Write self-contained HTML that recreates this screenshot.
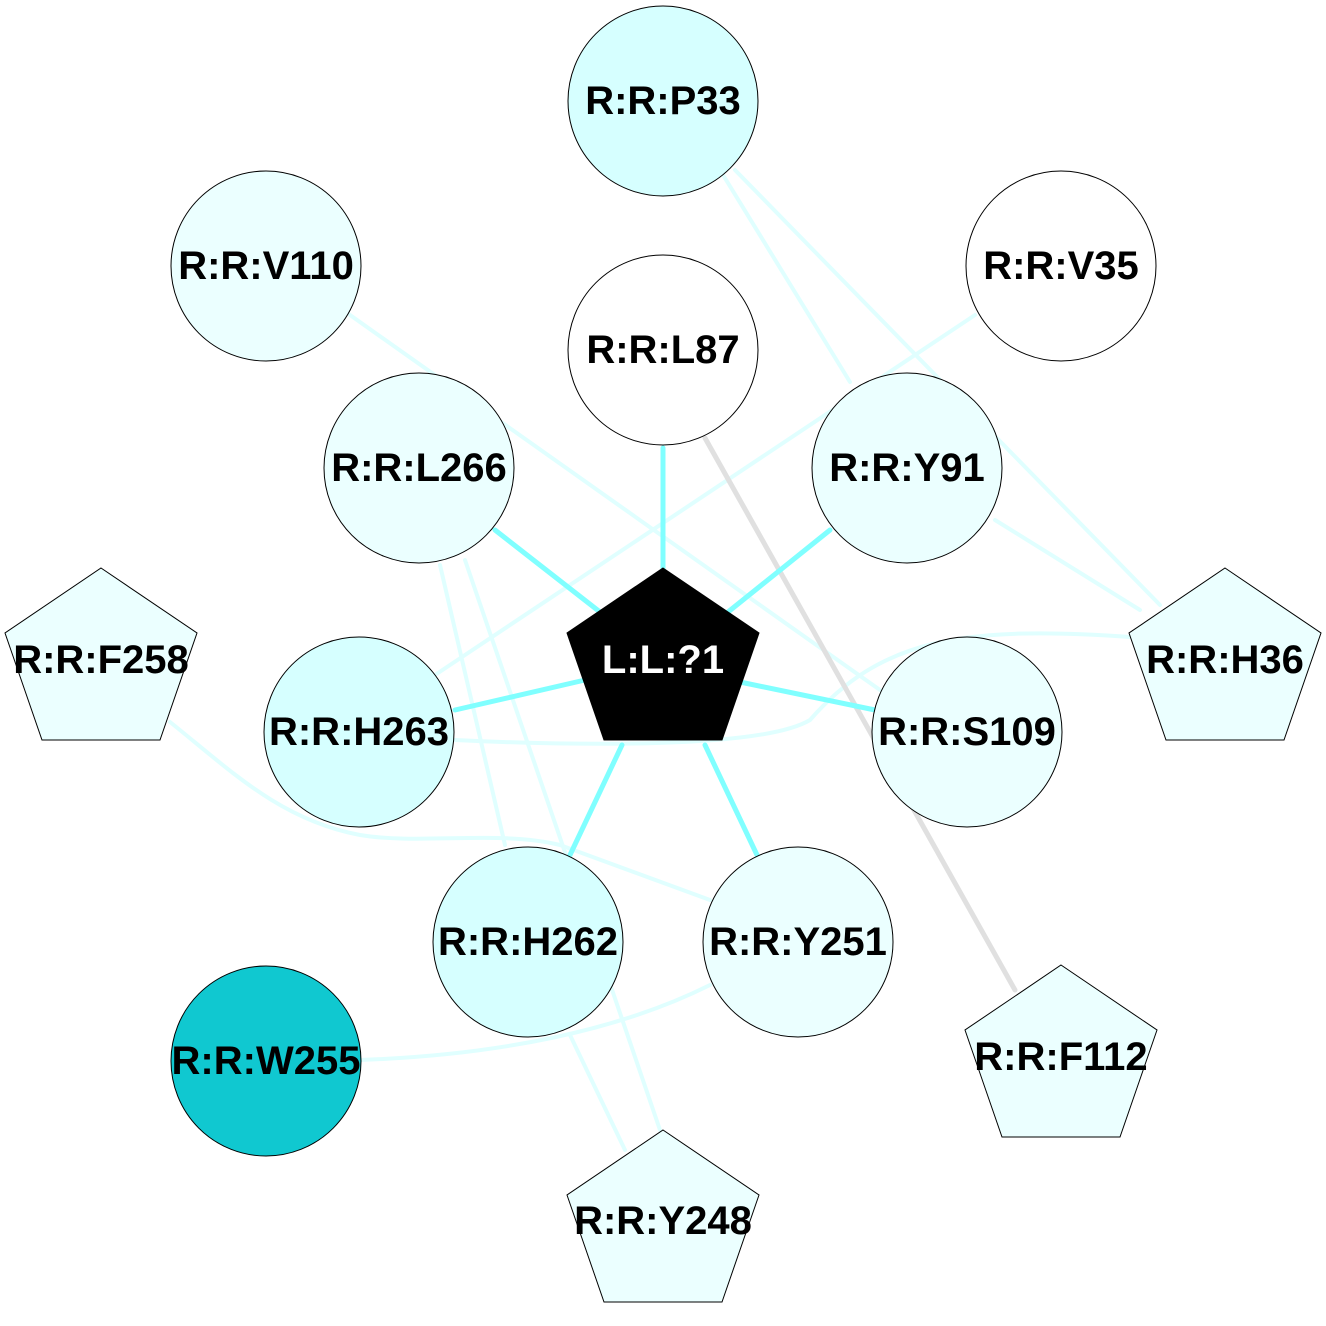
<!DOCTYPE html>
<html><head><meta charset="utf-8"><style>html,body{margin:0;padding:0;background:#fff}svg{display:block}</style></head>
<body>
<svg width="1326" height="1326" viewBox="0 0 1326 1326" xmlns="http://www.w3.org/2000/svg" font-family="Liberation Sans, sans-serif" font-weight="bold" font-size="40">
<g fill="none" stroke-linecap="round">
<g stroke="#e0ffff" stroke-width="4">
<path d="M720,170 L850,382"/>
<path d="M735,170 L1160,605"/>
<path d="M350,315 L880,690"/>
<path d="M975,315 L435,675"/>
<path d="M995,520 L1140,610"/>
<path d="M465,560 L660,1130"/>
<path d="M440,565 L505,845"/>
<path d="M170,722 C230,770 280,820 360,835 C420,845 500,830 560,845 L710,900"/>
<path d="M455,740 C560,745 760,750 810,720 C880,640 960,625 1130,637"/>
<path d="M710,985 C620,1030 500,1055 360,1060"/>
<path d="M570,1035 L625,1150"/>
</g>
<path d="M705,438 L1015,990" stroke="#e0e0e0" stroke-width="5"/>
<g stroke="#80ffff" stroke-width="5">
<path d="M663,448 L663,568"/>
<path d="M495,530 L600,612"/>
<path d="M830,530 L728,612"/>
<path d="M455,710 L585,680"/>
<path d="M740,682 L875,710"/>
<path d="M622,745 L570,855"/>
<path d="M705,745 L757,855"/>
</g>
</g>
<g stroke="#000" stroke-width="1">
<circle cx="663" cy="101" r="95" fill="#d6ffff"/>
<circle cx="266" cy="266" r="95" fill="#ebffff"/>
<circle cx="1061" cy="266" r="95" fill="#fff"/>
<circle cx="663" cy="350" r="95" fill="#fff"/>
<circle cx="419" cy="468" r="95" fill="#ebffff"/>
<circle cx="907" cy="468" r="95" fill="#ebffff"/>
<circle cx="359" cy="732" r="95" fill="#d6ffff"/>
<circle cx="967" cy="732" r="95" fill="#ebffff"/>
<circle cx="528" cy="942" r="95" fill="#d6ffff"/>
<circle cx="798" cy="942" r="95" fill="#ebffff"/>
<circle cx="266" cy="1061" r="95" fill="#10c8d0"/>
<polygon points="663,568 759,633 722,740 604,740 567,633" fill="#000"/>
<polygon points="101,568 197,633 160,740 42,740 5,633" fill="#ebffff"/>
<polygon points="1225,568 1321,633 1284,740 1166,740 1129,633" fill="#ebffff"/>
<polygon points="1061,965 1157,1030 1120,1137 1002,1137 965,1030" fill="#ebffff"/>
<polygon points="663,1130 759,1195 722,1302 604,1302 567,1195" fill="#ebffff"/>
</g>
<g text-anchor="middle" fill="#000">
<text x="663" y="114">R:R:P33</text>
<text x="266" y="279">R:R:V110</text>
<text x="1061" y="279">R:R:V35</text>
<text x="663" y="363">R:R:L87</text>
<text x="419" y="481">R:R:L266</text>
<text x="907" y="481">R:R:Y91</text>
<text x="359" y="745">R:R:H263</text>
<text x="967" y="745">R:R:S109</text>
<text x="528" y="955">R:R:H262</text>
<text x="798" y="955">R:R:Y251</text>
<text x="266" y="1074">R:R:W255</text>
<text x="663" y="673" fill="#fff">L:L:?1</text>
<text x="101" y="673">R:R:F258</text>
<text x="1225" y="673">R:R:H36</text>
<text x="1061" y="1070">R:R:F112</text>
<text x="663" y="1234">R:R:Y248</text>
</g>
</svg>
</body></html>
